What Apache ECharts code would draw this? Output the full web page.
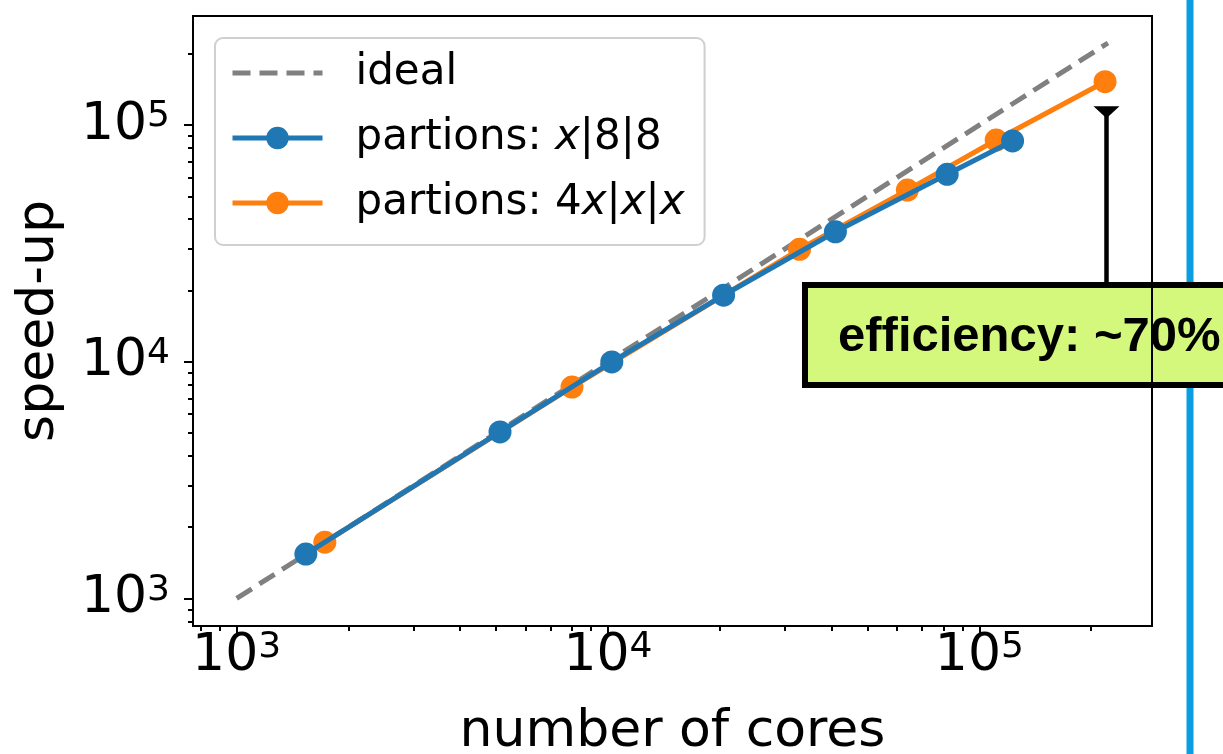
<!DOCTYPE html>
<html><head><meta charset="utf-8">
<script src="https://cdn.jsdelivr.net/npm/echarts@6/dist/echarts.min.js"></script>
<style>html,body{margin:0;padding:0;background:#fff}#c{width:1223px;height:754px}</style>
</head><body><div id="c"></div>
<script>
// ---------- data ----------
const SERIES_NAMES = ['ideal', 'partions: x|8|8', 'partions: 4x|x|x'];
const IDEAL_CORES   = [1000, 222000];
const IDEAL_SPEEDUP = [1000, 222000];
const BLUE_CORES    = [1536, 5120, 10240, 20480, 40960, 81920, 122880];
const BLUE_SPEEDUP  = [1540, 5050, 9980, 19100, 35400, 61900, 85600];
const ORANGE_CORES   = [1728, 8000, 32800, 64000, 111000, 218000];
const ORANGE_SPEEDUP = [1728, 7820, 29850, 53100, 86400, 152400];
const MAJOR_TICKS = [1000, 10000, 100000];
const MINOR_TICKS = [800, 900, 2000, 3000, 4000, 5000, 6000, 7000, 8000, 9000,
  20000, 30000, 40000, 50000, 60000, 70000, 80000, 90000, 200000];
const X_RANGE = [763, 291700];
const Y_RANGE = [765, 288700];
const X_NAME = 'number of cores';
const Y_NAME = 'speed-up';
const ANNOT_TEXT = 'efficiency: ~70%';
const ANNOT_POINT = [220000, 120000];

// ---------- helpers ----------
const FONT = 'DejaVu Sans';
const pairs = (xs, ys) => xs.map((x, i) => [x, ys[i]]);
const expLabel = v => '{b|10}{s|' + Math.round(Math.log10(v)) + '}';
const tickRich = {
  b: { fontFamily: FONT, fontSize: 52, lineHeight: 52, verticalAlign: 'bottom', color: '#000' },
  s: { fontFamily: FONT, fontSize: 36, lineHeight: 36, padding: [0, 0, 24, 0], verticalAlign: 'top', color: '#000' }
};
function axes(range, isX, name, nameGap) {
  const main = {
    type: 'log', logBase: 10, min: range[0], max: range[1],
    position: isX ? 'bottom' : 'left',
    axisLine: { show: true, onZero: false, lineStyle: { color: '#000', width: 2 } },
    axisTick: { show: true, inside: false, length: 9, lineStyle: { color: '#000', width: 2 }, customValues: MAJOR_TICKS },
    axisLabel: { show: true, customValues: MAJOR_TICKS, formatter: expLabel, rich: tickRich,
                 margin: isX ? 4 : 23, color: '#000', hideOverlap: false },
    splitLine: { show: false }, minorTick: { show: false },
    name: name, nameLocation: 'middle', nameGap: nameGap, nameMoveOverlap: false,
    nameTextStyle: { fontFamily: FONT, fontSize: 52, lineHeight: 52, color: '#000' }
  };
  const minor = {
    type: 'log', logBase: 10, min: range[0], max: range[1],
    position: isX ? 'bottom' : 'left',
    axisLine: { show: false },
    axisTick: { show: true, inside: false, length: 5, lineStyle: { color: '#000', width: 2 }, customValues: MINOR_TICKS },
    axisLabel: { show: false }, splitLine: { show: false }, minorTick: { show: false }
  };
  return [main, minor];
}

const chart = echarts.init(document.getElementById('c'), null, { renderer: 'canvas' });
const option = {
  animation: false,
  backgroundColor: '#fff',
  grid: { left: 193, right: 71, top: 16, bottom: 128, show: true, borderColor: '#000', borderWidth: 2,
          backgroundColor: 'transparent', containLabel: false, outerBoundsMode: 'none' },
  xAxis: axes(X_RANGE, true, X_NAME, 80),
  yAxis: axes(Y_RANGE, false, Y_NAME, 128),
  legend: {
    orient: 'vertical', left: 215, top: 38,
    padding: [14, 20, 21, 15], itemGap: 23, itemWidth: 90, itemHeight: 28,
    backgroundColor: 'rgba(255,255,255,0.8)', borderColor: '#d0d0d0', borderWidth: 2, borderRadius: 8,
    data: [{ name: SERIES_NAMES[0], itemStyle: { opacity: 0 } }, SERIES_NAMES[1], SERIES_NAMES[2]],
    lineStyle: { width: 5 },
    itemStyle: { borderWidth: 0 },
    formatter: n => n.replace(/x/g, '{i|x}'),
    textStyle: { fontFamily: FONT, fontSize: 42, lineHeight: 42, color: '#000', padding: [0, 0, 0, 28],
      rich: { i: { fontFamily: FONT, fontSize: 42, lineHeight: 42, fontStyle: 'italic', color: '#000' } } },
    selectedMode: false
  },
  series: [
    { name: SERIES_NAMES[0], type: 'line', data: pairs(IDEAL_CORES, IDEAL_SPEEDUP), symbol: 'none', z: 2,
      itemStyle: { color: '#808080' },
      lineStyle: { color: '#808080', width: 5, type: [18, 9] } },
    { name: SERIES_NAMES[2], type: 'line', data: pairs(ORANGE_CORES, ORANGE_SPEEDUP), z: 3,
      symbol: 'circle', symbolSize: 23, itemStyle: { color: '#ff7f0e' },
      lineStyle: { color: '#ff7f0e', width: 5 } },
    { name: SERIES_NAMES[1], type: 'line', data: pairs(BLUE_CORES, BLUE_SPEEDUP), z: 4,
      symbol: 'circle', symbolSize: 23, itemStyle: { color: '#1f77b4' },
      lineStyle: { color: '#1f77b4', width: 5 } }
  ]
};
chart.setOption(option);

const tip = chart.convertToPixel({ gridIndex: 0 }, ANNOT_POINT);
const boxTop = 285;
chart.setOption({
  graphic: [
    { type: 'line', z: -2, shape: { x1: 1190, y1: 0, x2: 1190, y2: 754 },
      style: { stroke: '#0b9de2', lineWidth: 7 } },
    { type: 'rect', z: -1, shape: { x: 805, y: boxTop, width: 460, height: 100 },
      style: { fill: '#d4f87b', stroke: '#000', lineWidth: 6 } },
    { type: 'text', z: -0.5, x: 838, y: 337,
      style: { text: ANNOT_TEXT, font: 'bold 49px "Liberation Sans"', fill: '#000', verticalAlign: 'middle', align: 'left' } },
    { type: 'line', z: 5, shape: { x1: tip[0], y1: tip[1] + 6, x2: tip[0], y2: boxTop - 3 },
      style: { stroke: '#000', lineWidth: 4.5 } },
    { type: 'polygon', z: 5, shape: { points: [[tip[0] - 13, tip[1]], [tip[0] + 13, tip[1]], [tip[0], tip[1] + 12]] },
      style: { fill: '#000' } }
  ]
});
</script></body></html>
